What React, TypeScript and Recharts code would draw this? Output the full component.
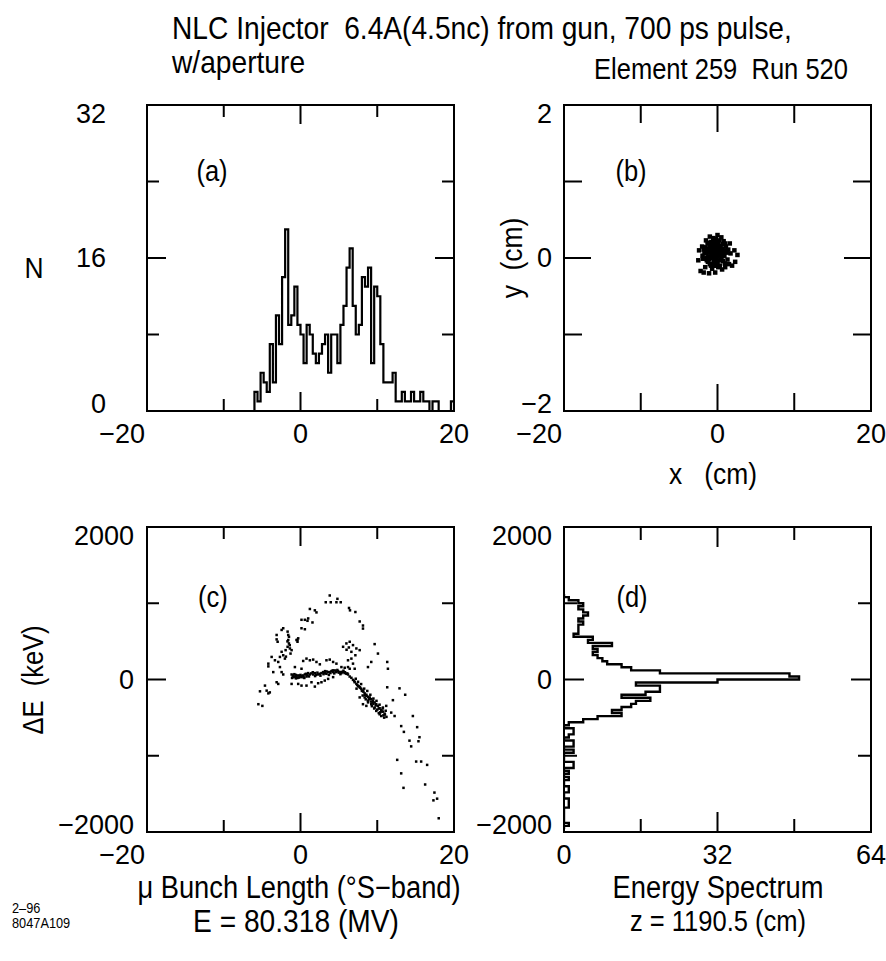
import React from 'react';
import { ComposedChart, Line, Scatter, XAxis, YAxis, ReferenceArea } from 'recharts';

const FONT = '"Liberation Sans", Arial, Helvetica, sans-serif';
const MINUS = '\u2212';
const SQUEEZE = 0.88;

// (a) bunch length histogram: bin left edges (deg S-band) and counts
const aEdges = [-6.4, -6.0, -5.6, -5.2, -4.8, -4.4, -4.0, -3.6, -3.2, -2.8, -2.4, -2.0, -1.6, -1.2, -0.8, -0.4,
  0.0, 0.4, 0.8, 1.2, 1.6, 2.0, 2.4, 2.8, 3.2, 3.6, 4.0, 4.4, 4.8, 5.2, 5.6, 6.0, 6.4, 6.8, 7.2, 7.6, 8.0, 8.4,
  8.8, 9.2, 9.6, 10.0, 10.4, 10.8, 11.2, 11.6, 12.0, 12.4, 12.8, 13.2, 13.6, 14.0, 14.4, 14.8, 15.2, 15.6, 16.0,
  16.4, 16.8, 17.2, 17.6, 18.0, 18.4, 18.8, 19.2, 19.6, 20.0];
const aCounts = [0, 2, 1, 4, 3, 2, 7, 3, 10, 7, 14, 19, 9, 10, 13, 9,
  8, 5, 9, 8, 6, 5, 6, 7, 8, 4, 8, 8, 5, 9, 11, 15, 17, 11, 8, 9, 14, 13,
  15, 5, 13, 12, 7, 3, 3, 3, 4, 1, 1, 2, 1, 1, 2, 1, 1, 2, 1,
  1, 0, 1, 1, 0, 0, 0, 0, 1, 0];

// (b) transverse spot, x / y in cm
const bPoints: [number, number][] = [
  [-0.3, 0.05], [-0.1, 0.02], [0.2, 0.08], [-0.6, 0.1], [-0.9, 0.0], [-1.3, 0.12], [-1.7, 0.06], [-2.0, 0.15],
  [0.6, 0.12], [0.9, 0.03], [1.3, -0.02], [1.7, 0.06], [2.3, -0.05], [2.6, 0.04], [-0.4, 0.18], [-0.8, 0.21],
  [-1.2, 0.19], [0.1, 0.2], [0.4, 0.16], [0.8, 0.22], [1.1, 0.15], [-1.5, 0.23], [-0.2, 0.25], [0.5, 0.27],
  [-0.5, -0.05], [-1.0, -0.08], [-1.4, -0.03], [-1.9, -0.01], [0.0, -0.07], [0.3, -0.1], [0.7, -0.04], [1.0, -0.12],
  [1.5, -0.08], [-0.7, -0.14], [-1.6, -0.12], [-2.5, -0.03], [-2.2, -0.17], [-1.8, -0.19], [-1.1, -0.2], [-0.3, -0.19],
  [0.6, -0.15], [1.9, -0.1], [2.2, 0.1], [1.6, 0.19], [-2.4, 0.1], [0.0, 0.3], [-1.0, 0.28], [-0.15, 0.1],
  [0.35, 0.03], [-0.45, 0.13], [-0.75, 0.04], [-1.1, 0.07], [-1.45, 0.0], [0.05, 0.14], [0.55, 0.07], [0.85, 0.1],
  [1.2, 0.07], [-0.25, -0.02], [-0.6, 0.01], [-1.25, -0.05], [0.15, -0.03], [0.45, -0.02], [-0.95, 0.15], [-1.55, 0.14],
  [-0.05, 0.17], [0.7, 0.18], [-0.35, 0.22], [-0.65, 0.17], [-1.8, 0.11], [1.4, 0.11], [-0.2, -0.1], [-0.85, -0.1],
  [0.25, 0.23], [-1.3, 0.2], [-0.55, 0.26], [0.95, -0.07], [-1.95, 0.03], [1.0, 0.19], [0.3, 0.12], [-0.1, 0.07],
  [-0.7, 0.08], [-1.2, 0.02], [0.6, 0.02], [0.1, -0.12], [-0.45, -0.1], [-1.35, 0.09], [-0.05, -0.04],
  [-0.8, 0.12], [-0.3, 0.14], [0.2, 0.15], [-1.0, 0.1], [-0.5, 0.06], [0.0, 0.1], [0.4, 0.09], [-1.5, 0.07],
  [-0.6, 0.2], [-0.2, 0.18], [0.1, 0.04], [-1.1, -0.02], [-0.4, 0.0], [0.8, 0.05], [-0.9, 0.18],
];

// (c) longitudinal phase space: phase (deg S-band), dE (keV)
const cPoints: [number, number][] = [
  // upper arc
  [3.81, 1102], [3.29, 1013], [3.94, 1013], [4.68, 1013], [5.24, 1013], [4.81, 1058], [1.22, 925], [1.87, 907],
  [2.08, 880], [6.32, 938], [6.45, 907], [7.15, 885], [0.13, 783], [0.57, 783], [1.0, 801], [0.91, 770],
  [1.56, 748], [7.71, 761], [8.14, 708], [8.14, 668], [0.13, 672], [0.57, 659],
  // left branch
  [-2.25, 672], [-2.46, 650], [-3.11, 584], [-3.11, 526], [-2.98, 495], [-1.68, 628], [-1.6, 584], [-1.6, 518],
  [-1.51, 473], [-1.68, 429], [-1.38, 407], [-1.16, 385], [-1.94, 385], [-2.46, 363], [-2.68, 296], [-2.25, 318],
  [-2.03, 274], [-0.3, 540], [-0.52, 518], [-0.39, 495], [-3.33, 252], [-2.9, 230], [-4.19, 208], [-4.19, 172],
  [-3.76, 296], [-3.55, 97], [-2.68, 163], [-2.46, 97], [-2.25, 66], [-3.11, -36], [-2.9, -58], [-4.63, -80],
  [-4.41, -146], [-4.19, -182], [-4.0, -169], [-5.28, -155], [-5.49, -324], [-4.97, -346],
  [-1.5, 560], [-1.7, 500], [-1.4, 450], [-0.4, 520], [-1.9, 300], [-1.3, 340],
  // core band
  [-1.16, 66], [-0.95, 53], [-0.73, 39], [-0.52, 31], [-0.3, 53], [-0.08, 39], [0.13, 31], [0.35, 53],
  [0.57, 66], [0.78, 39], [1.0, 84], [1.22, 66], [1.65, 66], [1.87, 84], [2.3, 66], [2.73, 84],
  [2.95, 97], [3.16, 84], [3.38, 75], [3.6, 97], [3.81, 97], [4.03, 110], [4.25, 97], [4.46, 119],
  [4.68, 97], [4.9, 110], [5.11, 97], [5.33, 84], [5.55, 97], [5.76, 84], [5.98, 75], [6.19, 66],
  [-1.0, 45], [-0.6, 60], [-0.2, 25], [0.2, 45], [0.5, 20], [0.9, 55], [1.4, 80], [2.0, 60],
  [2.5, 75], [3.0, 70], [3.4, 105], [3.9, 85], [4.2, 120], [4.6, 105], [5.0, 90], [5.4, 100],
  [5.8, 95], [6.1, 80], [-1.1, 20], [-0.8, 70], [-0.4, 20], [0.0, 60], [0.4, 30], [0.7, 75],
  [1.1, 40], [1.9, 45], [2.6, 50], [3.7, 60], [4.4, 80], [5.2, 70], [-0.9, 30], [-0.1, 50],
  [1.6, 95], [2.2, 90], [3.2, 110], [4.8, 125], [5.6, 115], [-0.6, 15],
  // above band
  [-0.73, 163], [0.13, 141], [0.78, 274], [1.22, 252], [1.65, 261], [0.35, 243], [2.08, 230], [2.52, 199],
  [3.38, 252], [3.81, 261], [4.25, 230], [4.68, 208], [5.33, 163], [5.76, 154], [6.19, 163], [6.41, 141],
  [6.19, 252], [6.63, 274], [6.84, 208], [7.06, 141], [5.55, 429], [5.98, 473], [6.41, 495], [6.84, 451],
  [7.28, 407], [7.71, 385], [6.63, 363], [7.15, 318], [6.3, 420], [6.0, 390],
  // below band
  [-1.16, -58], [-0.3, -58], [0.13, -80], [0.78, -80], [1.43, -36], [1.87, -93], [2.3, -49], [2.73, -36],
  [3.16, -14], [3.6, 8], [4.25, 31],
  // descending tail
  [6.41, 39], [6.63, 22], [6.84, -5], [7.06, -36], [7.28, -58], [7.49, -85], [7.71, -102], [7.93, -124],
  [8.14, -146], [8.36, -182], [8.58, -200], [8.79, -226], [9.01, -235], [9.22, -257], [9.44, -279], [9.66, -301],
  [9.87, -324], [10.09, -346], [10.31, -377], [10.52, -403], [10.74, -421], [10.96, -448], [10.52, -479], [10.31, -456],
  [9.66, -368], [8.79, -279], [8.36, -235], [7.71, -235], [8.14, -324], [8.58, -346], [9.22, -324], [9.87, -412],
  [10.74, -368], [11.17, -346], [7.0, -20], [7.4, -70], [7.8, -110], [8.2, -160], [8.6, -215], [9.0, -250],
  [9.4, -300], [9.8, -340], [10.2, -380], [10.6, -420], [11.0, -460], [8.0, -150], [8.9, -260], [9.5, -320],
  [10.0, -395], [10.4, -430], [10.8, -470], [9.2, -290], [8.4, -200], [7.6, -90],
  [7.2, 10], [7.5, -30], [7.9, -60], [8.3, -120], [8.7, -150], [9.1, -200], [9.5, -250], [9.9, -280],
  [10.3, -330], [10.7, -380], [11.1, -410], [8.1, -210], [8.8, -300], [9.6, -380], [10.2, -440], [10.9, -500],
  [11.2, -490], [7.3, -120], [8.5, -260], [9.3, -350],
  // outliers
  [9.66, 464], [10.09, 340], [9.22, 230], [8.79, 163], [11.3, 230], [11.39, 141], [11.3, -102], [12.9, -116],
  [13.64, -200], [12.04, -271], [11.82, -434], [12.26, -479], [13.12, -611], [13.47, -687], [14.64, -479], [15.2, -625],
  [15.5, -757], [15.37, -810], [14.2, -802], [14.42, -877], [12.6, -1054], [13.12, -1231], [13.42, -1421], [15.07, -1076],
  [15.72, -1076], [16.5, -1120], [16.24, -1377], [17.45, -1483], [17.32, -1585], [17.8, -1563], [18.01, -1820],
];

// (d) energy spectrum: bin lower edges (keV) and counts
const dEdges = [-1960, -1920, -1880, -1840, -1800, -1760, -1720, -1680, -1640, -1600, -1560, -1520, -1480, -1440,
  -1400, -1360, -1320, -1280, -1240, -1200, -1160, -1120, -1080, -1040, -1000, -960, -920, -880, -840, -800, -760,
  -720, -680, -640, -600, -560, -520, -480, -440, -400, -360, -320, -280, -240, -200, -160, -120, -80, -40, 0, 40,
  80, 120, 160, 200, 240, 280, 320, 360, 400, 440, 480, 520, 560, 600, 640, 680, 720, 760, 800, 840, 880, 920, 960,
  1000, 1040, 1080, 1120];
const dCounts = [0, 1, 0, 0, 0, 0, 0, 1, 1, 1, 0, 0, 1, 1,
  0, 0, 1, 0, 1, 0, 2, 2, 0, 0, 0, 2, 0, 2, 2, 0, 1,
  2, 2, 0, 1, 4, 7, 12, 10, 12, 14, 15, 18, 12, 17, 20, 20, 15, 32, 49, 47,
  20, 14, 12, 9, 8, 7, 6, 7, 6, 10, 5, 6, 2, 3, 3, 3, 4, 3, 4, 5, 4, 3, 4,
  3, 1, 0, 0];

const aData = aEdges.map((x, i) => ({ x, n: aCounts[i] }));
const bData = bPoints.map(([x, y]) => ({ x, y }));
const cData = cPoints.map(([x, y]) => ({ x, y }));
const dData = dEdges.map((e, i) => ({ e, c: dCounts[i] }));

const fmt = (v: number) => (v < 0 ? MINUS + Math.abs(v) : String(v));

type Frame = {
  left: number; top: number; w: number; h: number;
  xDomain: [number, number]; yDomain: [number, number];
  xTicks: number[]; yTicks: number[];
  xLabels: number[]; yLabels: number[];
  minor: number; major: number; yGap: number;
};

const L = 100, T = 15, R = 30, B = 45;
const TICK_FS = 27;

const xTick = (f: Frame) => (props: any) => {
  const { x, y, payload } = props;
  const v = payload.value;
  const inner = v !== f.xDomain[0] && v !== f.xDomain[1];
  const len = v === (f.xDomain[0] + f.xDomain[1]) / 2 ? f.major : f.minor;
  const first = v === f.xDomain[0] && v < 0;
  return (
    <g>
      {inner && <line x1={x} y1={y} x2={x} y2={y - len} stroke="#000" strokeWidth={2} />}
      {inner && <line x1={x} y1={y - f.h} x2={x} y2={y - f.h + len} stroke="#000" strokeWidth={2} />}
      {f.xLabels.includes(v) && (
        <text x={first ? x - 2 : x} y={y + 23} textAnchor={first ? 'end' : 'middle'} dominantBaseline="central"
          fontFamily={FONT} fontSize={TICK_FS} fill="#000">{fmt(v)}</text>
      )}
    </g>
  );
};

const yTick = (f: Frame) => (props: any) => {
  const { x, y, payload } = props;
  const v = payload.value;
  const inner = v !== f.yDomain[0] && v !== f.yDomain[1];
  const len = v === (f.yDomain[0] + f.yDomain[1]) / 2 ? f.major : f.minor;
  const dy = v === f.yDomain[1] ? 9 : v === f.yDomain[0] ? -7 : 0;
  return (
    <g>
      {inner && <line x1={x} y1={y} x2={x + len} y2={y} stroke="#000" strokeWidth={2} />}
      {inner && <line x1={x + f.w} y1={y} x2={x + f.w - len} y2={y} stroke="#000" strokeWidth={2} />}
      {f.yLabels.includes(v) && (
        <text x={x - f.yGap} y={y + dy} textAnchor="end" dominantBaseline="central"
          fontFamily={FONT} fontSize={TICK_FS} fill="#000">{fmt(v)}</text>
      )}
    </g>
  );
};

const Panel = ({ f, layout, data, xKey, yKey, children }: {
  f: Frame; layout?: 'horizontal' | 'vertical'; data?: any[]; xKey?: string; yKey?: string; children: React.ReactNode;
}) => (
  <div style={{ position: 'absolute', left: f.left - L, top: f.top - T }}>
    <ComposedChart width={L + f.w + R} height={T + f.h + B} data={data} layout={layout || 'horizontal'}
      margin={{ top: T, right: R, bottom: 5, left: 0 }}>
      <XAxis type="number" dataKey={xKey} domain={f.xDomain} ticks={f.xTicks} interval={0} allowDataOverflow
        height={B - 5} axisLine={false} tickLine={false} tickSize={0} tickMargin={0} tick={xTick(f)} />
      <YAxis type="number" dataKey={yKey} domain={f.yDomain} ticks={f.yTicks} interval={0} allowDataOverflow
        reversed={layout === 'vertical'}
        width={L} axisLine={false} tickLine={false} tickSize={0} tickMargin={0} tick={yTick(f)} />
      {children}
      <ReferenceArea x1={f.xDomain[0]} x2={f.xDomain[1]} y1={f.yDomain[0]} y2={f.yDomain[1]}
        fill="none" fillOpacity={0} stroke="#000" strokeWidth={2} ifOverflow="visible" />
    </ComposedChart>
  </div>
);

const dot = (size: number) => (props: any) => (
  <rect x={props.cx - size / 2} y={props.cy - size / 2} width={size} height={size} fill="#000" />
);

const Txt = ({ x, y, size, children, left, rotate }: {
  x: number; y: number; size: number; children: React.ReactNode; left?: boolean; rotate?: boolean;
}) => (
  <div style={{
    position: 'absolute', left: x, top: y, fontFamily: FONT, fontSize: size, lineHeight: 1, whiteSpace: 'pre',
    color: '#000', transformOrigin: left ? 'left center' : 'center center',
    transform: `translate(${left ? '0' : '-50%'}, -50%)${rotate ? ' rotate(-90deg)' : ''} scaleX(${SQUEEZE})`,
  }}>{children}</div>
);

const fa: Frame = {
  left: 147, top: 105, w: 307, h: 306, xDomain: [-20, 20], yDomain: [0, 32],
  xTicks: [-20, -10, 0, 10, 20], yTicks: [0, 8, 16, 24, 32], xLabels: [-20, 0, 20], yLabels: [0, 16, 32],
  minor: 12, major: 19, yGap: 41,
};
const fb: Frame = {
  left: 564, top: 105, w: 307, h: 306, xDomain: [-20, 20], yDomain: [-2, 2],
  xTicks: [-20, -10, 0, 10, 20], yTicks: [-2, -1, 0, 1, 2], xLabels: [-20, 0, 20], yLabels: [-2, 0, 2],
  minor: 18, major: 27, yGap: 12,
};
const fc: Frame = {
  left: 147, top: 527, w: 307, h: 305, xDomain: [-20, 20], yDomain: [-2000, 2000],
  xTicks: [-20, -10, 0, 10, 20], yTicks: [-2000, -1000, 0, 1000, 2000], xLabels: [-20, 0, 20],
  yLabels: [-2000, 0, 2000], minor: 12, major: 19, yGap: 13,
};
const fd: Frame = {
  left: 564, top: 527, w: 307, h: 305, xDomain: [0, 64], yDomain: [-2000, 2000],
  xTicks: [0, 16, 32, 48, 64], yTicks: [-2000, -1000, 0, 1000, 2000], xLabels: [0, 32, 64],
  yLabels: [-2000, 0, 2000], minor: 13, major: 20, yGap: 12,
};

export default function App() {
  return (
    <div style={{ position: 'absolute', left: 0, top: 0, width: 886, height: 961, background: '#fff', overflow: 'hidden' }}>
      <Panel f={fa} data={aData} xKey="x">
        <Line type="stepAfter" dataKey="n" stroke="#000" strokeWidth={2.2} dot={false} isAnimationActive={false} />
      </Panel>
      <Panel f={fb} xKey="x" yKey="y">
        <Scatter data={bData} fill="#000" shape={dot(4.5)} isAnimationActive={false} />
      </Panel>
      <Panel f={fc} xKey="x" yKey="y">
        <Scatter data={cData} fill="#000" shape={dot(2.5)} isAnimationActive={false} />
      </Panel>
      <Panel f={fd} data={dData} layout="vertical" yKey="e">
        <Line type="stepBefore" dataKey="c" stroke="#000" strokeWidth={2.4} dot={false} isAnimationActive={false} />
      </Panel>

      <Txt x={172} y={28} size={32} left>NLC Injector  6.4A(4.5nc) from gun, 700 ps pulse,</Txt>
      <Txt x={172} y={62} size={32} left>w/aperture</Txt>
      <Txt x={721} y={69} size={29}>Element 259  Run 520</Txt>

      <Txt x={212} y={171} size={29}>(a)</Txt>
      <Txt x={631} y={171} size={29}>(b)</Txt>
      <Txt x={213} y={597} size={29}>(c)</Txt>
      <Txt x={632} y={597} size={29}>(d)</Txt>

      <Txt x={34} y={268} size={30}>N</Txt>
      <Txt x={512} y={258} size={30} rotate>y  (cm)</Txt>
      <Txt x={713} y={474} size={30}>x   (cm)</Txt>
      <Txt x={33} y={680} size={29} rotate>ΔE  (keV)</Txt>

      <Txt x={299} y={887} size={31}>μ Bunch Length (°S{MINUS}band)</Txt>
      <Txt x={296} y={921} size={32}>E = 80.318 (MV)</Txt>
      <Txt x={718} y={887} size={31}>Energy Spectrum</Txt>
      <Txt x={718} y={921} size={29}>z = 1190.5 (cm)</Txt>

      <Txt x={12} y={908} size={14.5} left>2{'\u2013'}96</Txt>
      <Txt x={12} y={923} size={14.5} left>8047A109</Txt>
    </div>
  );
}
